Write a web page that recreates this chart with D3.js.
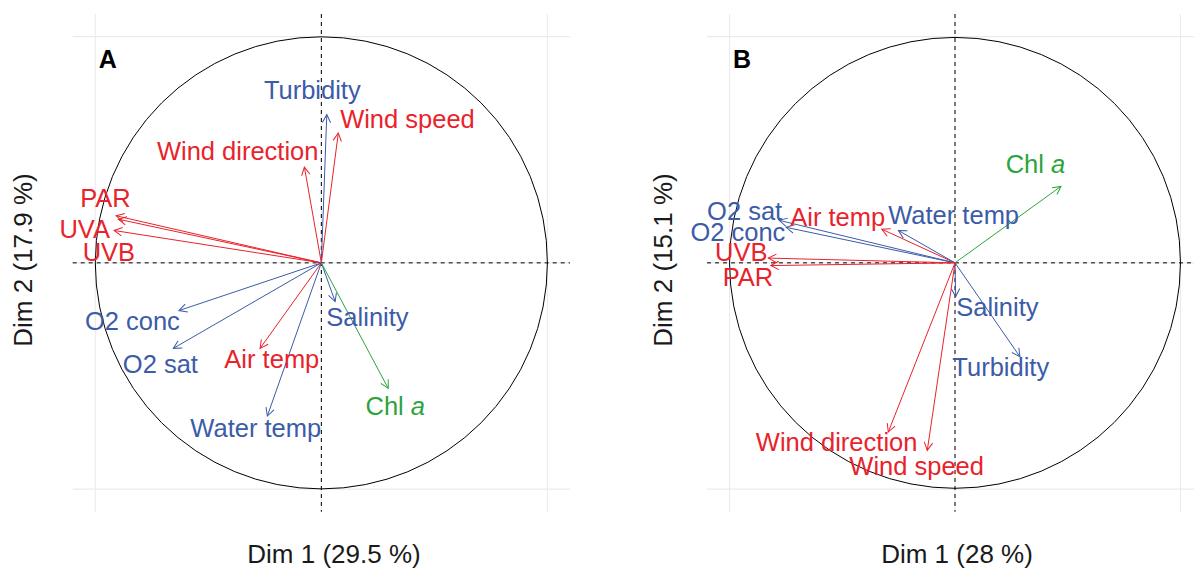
<!DOCTYPE html>
<html>
<head>
<meta charset="utf-8">
<script src="https://cdn.jsdelivr.net/npm/d3@7"></script>
<style>
  html, body { margin: 0; padding: 0; background: #fff; }
  svg { display: block; font-family: "Liberation Sans", Arial, Helvetica, sans-serif; }
</style>
</head>
<body>
<svg id="chart" width="1194" height="568"></svg>
<script>
// ---------- Panel A data ----------
const namesA = ["Turbidity", "Wind speed", "Wind direction", "PAR", "UVA", "UVB", "O2 conc", "O2 sat", "Air temp", "Water temp", "Salinity", "Chl a"];
const groupA = ["water", "atmos", "atmos", "atmos", "atmos", "atmos", "water", "water", "atmos", "water", "water", "chl"];
const dim1A = [0.024, 0.075, -0.075, -0.908, -0.898, -0.917, -0.630, -0.655, -0.271, -0.239, 0.061, 0.296];
const dim2A = [0.655, 0.574, 0.423, 0.208, 0.193, 0.143, -0.211, -0.378, -0.378, -0.677, -0.171, -0.555];
const labXA = [-0.040, 0.381, -0.370, -0.955, -1.047, -0.940, -0.836, -0.712, -0.219, -0.290, 0.204, 0.327];
const labYA = [0.765, 0.638, 0.497, 0.286, 0.150, 0.049, -0.256, -0.448, -0.426, -0.728, -0.238, -0.631];

// ---------- Panel B data ----------
const namesB = ["Chl a", "O2 sat", "O2 conc", "Air temp", "Water temp", "UVB", "PAR", "Salinity", "Turbidity", "Wind direction", "Wind speed"];
const groupB = ["chl", "water", "water", "atmos", "water", "atmos", "atmos", "water", "water", "atmos", "atmos"];
const dim1B = [0.470, -0.780, -0.749, -0.325, -0.251, -0.828, -0.817, 0.003, 0.288, -0.296, -0.123];
const dim2B = [0.338, 0.188, 0.157, 0.149, 0.143, 0.021, -0.012, -0.149, -0.415, -0.748, -0.829];
const labXB = [0.357, -0.933, -0.963, -0.520, -0.006, -0.948, -0.918, 0.188, 0.203, -0.525, -0.170];
const labYB = [0.438, 0.228, 0.139, 0.203, 0.213, 0.048, -0.063, -0.194, -0.458, -0.792, -0.899];

// ---------- Titles ----------
const panelTags = ["A", "B"];
const xTitles = ["Dim 1 (29.5 %)", "Dim 1 (28 %)"];
const yTitles = ["Dim 2 (17.9 %)", "Dim 2 (15.1 %)"];
const gridBreaks = [-1, 0, 1];

const colors = { atmos: "#e8232b", water: "#3c5ba8", chl: "#2ca43c" };

const svg = d3.select("#chart");
const defs = svg.append("defs");
Object.entries(colors).forEach(([k, c]) => {
  defs.append("marker")
    .attr("id", "arrow-" + k)
    .attr("viewBox", "-10 -6 12 12")
    .attr("refX", 0).attr("refY", 0)
    .attr("markerUnits", "userSpaceOnUse")
    .attr("markerWidth", 12).attr("markerHeight", 12)
    .attr("orient", "auto")
    .append("path")
    .attr("d", "M-8,-4.2L0,0L-8,4.2")
    .attr("fill", "none")
    .attr("stroke", c)
    .attr("stroke-width", 1);
});

const panels = [
  { names: namesA, group: groupA, d1: dim1A, d2: dim2A, lx: labXA, ly: labYA,
    left: 72.7, right: 570, top: 14, bottom: 511.7, xTitleX: 334, yTitleX: 32 },
  { names: namesB, group: groupB, d1: dim1B, d2: dim2B, lx: labXB, ly: labYB,
    left: 707, right: 1203, top: 14, bottom: 511.7, xTitleX: 957, yTitleX: 672 }
];

panels.forEach((p, i) => {
  const x = d3.scaleLinear().domain([-1.1, 1.1]).range([p.left, p.right]);
  const y = d3.scaleLinear().domain([-1.1, 1.1]).range([p.bottom, p.top]);
  const g = svg.append("g");

  // grid
  g.selectAll(".gx").data(gridBreaks).join("line")
    .attr("x1", d => x(d)).attr("x2", d => x(d))
    .attr("y1", p.top).attr("y2", p.bottom)
    .attr("stroke", "#ebebeb").attr("stroke-width", 1.1);
  g.selectAll(".gy").data(gridBreaks).join("line")
    .attr("y1", d => y(d)).attr("y2", d => y(d))
    .attr("x1", p.left).attr("x2", p.right)
    .attr("stroke", "#ebebeb").attr("stroke-width", 1.1);

  // circle
  g.append("circle")
    .attr("cx", x(0)).attr("cy", y(0))
    .attr("r", x(1) - x(0))
    .attr("fill", "none").attr("stroke", "#000").attr("stroke-width", 1);

  // dashed axes
  g.append("line")
    .attr("x1", p.left).attr("x2", p.right).attr("y1", y(0)).attr("y2", y(0))
    .attr("stroke", "#000").attr("stroke-width", 1).attr("stroke-dasharray", "4,4");
  g.append("line")
    .attr("x1", x(0)).attr("x2", x(0)).attr("y1", p.top).attr("y2", p.bottom)
    .attr("stroke", "#000").attr("stroke-width", 1).attr("stroke-dasharray", "4,4");

  const idx = d3.range(p.names.length);

  // arrows
  g.selectAll(".arrow").data(idx).join("line")
    .attr("x1", x(0)).attr("y1", y(0))
    .attr("x2", j => x(p.d1[j])).attr("y2", j => y(p.d2[j]))
    .attr("stroke", j => colors[p.group[j]])
    .attr("stroke-width", 1)
    .attr("marker-end", j => "url(#arrow-" + p.group[j] + ")");

  // labels
  g.selectAll(".lab").data(idx).join("text")
    .attr("x", j => x(p.lx[j])).attr("y", j => y(p.ly[j]))
    .attr("dy", "0.36em")
    .attr("text-anchor", "middle")
    .attr("font-size", 25.5)
    .attr("fill", j => colors[p.group[j]])
    .each(function (j) {
      const t = d3.select(this);
      const name = p.names[j];
      if (name === "Chl a") {
        t.append("tspan").text("Chl ");
        t.append("tspan").attr("font-style", "italic").text("a");
      } else {
        t.text(name);
      }
    });

  // panel tag
  g.append("text")
    .attr("x", p.left + 26).attr("y", p.top + 54)
    .attr("font-size", 25).attr("font-weight", "bold").attr("fill", "#000")
    .text(panelTags[i]);

  // axis titles
  svg.append("text")
    .attr("x", p.xTitleX).attr("y", 563)
    .attr("text-anchor", "middle").attr("font-size", 26).attr("fill", "#1a1a1a")
    .text(xTitles[i]);
  svg.append("text")
    .attr("transform", `translate(${p.yTitleX},260) rotate(-90)`)
    .attr("text-anchor", "middle").attr("font-size", 26).attr("fill", "#1a1a1a")
    .text(yTitles[i]);
});
</script>
</body>
</html>
